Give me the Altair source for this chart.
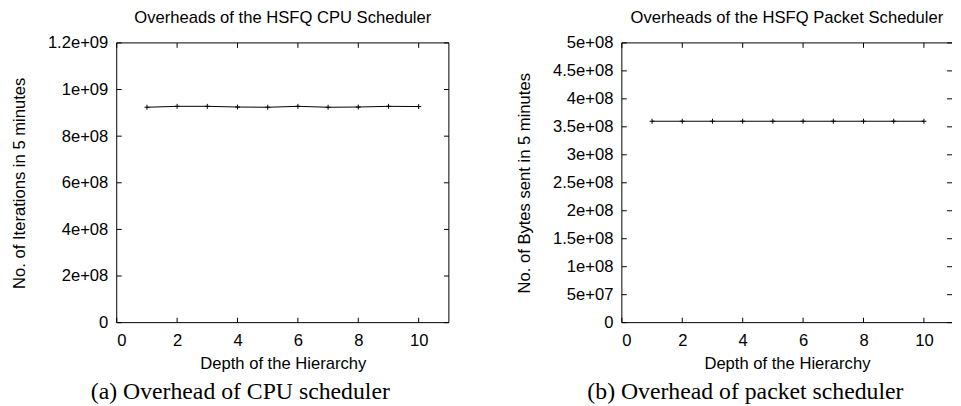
import altair as alt
import pandas as pd

# ---- data ----
depth = [1, 2, 3, 4, 5, 6, 7, 8, 9, 10]
cpu_iterations = [9.24e8, 9.28e8, 9.28e8, 9.25e8, 9.24e8, 9.28e8, 9.24e8, 9.25e8, 9.28e8, 9.27e8]
packet_bytes = [3.6e8, 3.6e8, 3.6e8, 3.6e8, 3.6e8, 3.6e8, 3.6e8, 3.6e8, 3.6e8, 3.6e8]
x_ticks = [0, 2, 4, 6, 8, 10]
cpu_y_ticks = [0, 2e8, 4e8, 6e8, 8e8, 1e9, 1.2e9]
pkt_y_ticks = [0, 5e7, 1e8, 1.5e8, 2e8, 2.5e8, 3e8, 3.5e8, 4e8, 4.5e8, 5e8]
titles = ["Overheads of the HSFQ CPU Scheduler", "Overheads of the HSFQ Packet Scheduler"]
y_titles = ["No. of Iterations in 5 minutes", "No. of Bytes sent in 5 minutes"]
x_title = "Depth of the Hierarchy"
captions = ["(a) Overhead of CPU scheduler", "(b) Overhead of packet scheduler"]

SANS = "Liberation Sans"
SERIF = "Liberation Serif"
FS = 16.8
H = 283
TICK = 5
PLUS = "M-1,0L1,0M0,-1L0,1"
LABEL_EXPR = "datum.value == 0 ? '0' : replace(format(datum.value, '~e'), 'e+', 'e+0')"


def panel(values, yticks, ymax, xmax, W, title, ytitle, caption, right_edge):
    df = pd.DataFrame({"depth": depth, "value": values})
    xs = alt.Scale(domain=[0, xmax], nice=False, zero=False)
    ys = alt.Scale(domain=[0, ymax], nice=False)
    xaxis = alt.Axis(values=x_ticks, title=x_title, format="d")
    yaxis = alt.Axis(values=yticks, title=ytitle, labelExpr=LABEL_EXPR)
    base = alt.Chart(df)
    xenc = alt.X("depth:Q", scale=xs, axis=xaxis)
    yenc = alt.Y("value:Q", scale=ys, axis=yaxis)
    line = base.mark_line(color="black", strokeWidth=1).encode(x=xenc, y=yenc)
    pts = base.mark_point(shape=PLUS, size=25, filled=False, color="black",
                          strokeWidth=1, opacity=1).encode(x=xenc, y=yenc)

    xt = alt.Chart(pd.DataFrame({"depth": x_ticks}))
    xb = xt.mark_rule(color="black", strokeWidth=1).encode(
        x=xenc, y=alt.value(H), y2=alt.value(H - TICK))
    xtp = xt.mark_rule(color="black", strokeWidth=1).encode(
        x=xenc, y=alt.value(0), y2=alt.value(TICK))
    yt = alt.Chart(pd.DataFrame({"value": yticks}))
    yl = yt.mark_rule(color="black", strokeWidth=1).encode(
        y=yenc, x=alt.value(0), x2=alt.value(TICK))
    yr = yt.mark_rule(color="black", strokeWidth=1).encode(
        y=yenc, x=alt.value(W - TICK), x2=alt.value(W))

    one = alt.Chart(pd.DataFrame({"k": [0]}))
    edges = [
        one.mark_rule(color="black", strokeWidth=1).encode(
            x=alt.value(0), y=alt.value(0), y2=alt.value(H)),
        one.mark_rule(color="black", strokeWidth=1).encode(
            x=alt.value(0), x2=alt.value(W), y=alt.value(0)),
        one.mark_rule(color="black", strokeWidth=1).encode(
            x=alt.value(0), x2=alt.value(W), y=alt.value(H)),
    ]
    if right_edge:
        edges.append(one.mark_rule(color="black", strokeWidth=1).encode(
            x=alt.value(W), y=alt.value(0), y2=alt.value(H)))

    cap = alt.Chart(pd.DataFrame({"caption": [caption]})).mark_text(
        font=SERIF, fontSize=24, baseline="alphabetic", align="center", color="black"
    ).encode(text="caption:N", x=alt.value(125), y=alt.value(H + 77))

    return alt.layer(line, pts, xb, xtp, yl, yr, *edges, cap).properties(
        width=W, height=H,
        title=alt.TitleParams(text=title, font=SANS, fontSize=FS, fontWeight="normal",
                              color="black", anchor="middle", baseline="alphabetic",
                              offset=-5),
    )


left = panel(cpu_iterations, cpu_y_ticks, 1.2e9, 11, 336, titles[0], y_titles[0], captions[0], True)
right = panel(packet_bytes, pkt_y_ticks, 5e8, 10.93, 334, titles[1], y_titles[1], captions[1], False)

chart = alt.hconcat(left, right, spacing=67).properties(
    padding={"left": 3, "top": 0, "right": 0, "bottom": 0},
    background="white",
).configure_view(stroke=None).configure_axis(
    labelFont=SANS, labelFontSize=FS, labelColor="black",
    titleFont=SANS, titleFontSize=FS, titleFontWeight="normal", titleColor="black",
    ticks=False, domain=False, grid=False,
).configure_axisY(labelPadding=9, titlePadding=19).configure_axisX(labelPadding=10, titlePadding=7)

chart.save("out.html", embed_options={"renderer": "svg", "actions": False})
